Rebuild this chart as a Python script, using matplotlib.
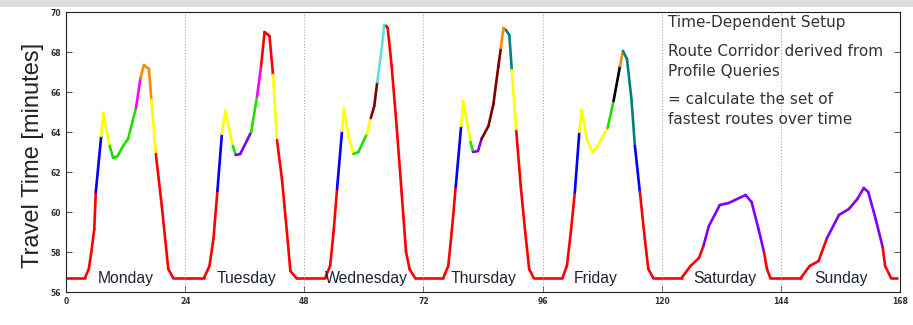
import matplotlib
matplotlib.use('Agg')
import matplotlib.pyplot as plt
from matplotlib.collections import LineCollection
from matplotlib.patches import Rectangle

# hours of the week and travel time in minutes
mon_h = [0, 3.8, 4.6, 5.1, 5.7, 6.0, 7.1, 7.5, 8.8, 9.5, 10.4, 11.5, 12.5, 14.1, 15.0, 15.7, 16.7, 17.2, 18.1, 19.3, 20.6, 21.6]
mon_v = [56.7, 56.7, 57.15, 58.0, 59.15, 61.0, 63.8, 64.95, 63.3, 62.7, 62.8, 63.3, 63.65, 65.2, 66.7, 67.35, 67.15, 65.6, 62.9, 60.3, 57.15, 56.7]
mon_c = [(0, 'red'), (6.0, 'blue'), (7.1, 'yellow'), (8.8, 'green'), (14.1, 'magenta'),
         (15.0, 'orange'), (17.2, 'yellow'), (18.1, 'red')]

tue_h = [27.8, 28.9, 29.7, 30.5, 31.4, 32.1, 33.6, 34.2, 35.1, 36.5, 37.3, 38.5, 39.3, 40.0, 41.0, 41.7, 42.5, 43.5, 44.5, 45.2, 46.4]
tue_v = [56.7, 57.3, 58.65, 61.05, 63.9, 65.05, 63.3, 62.85, 62.9, 63.6, 64.0, 65.8, 67.3, 69.0, 68.8, 66.85, 63.6, 61.65, 59.0, 57.05, 56.7]
tue_c = [(27.8, 'red'), (30.5, 'blue'), (31.4, 'yellow'), (33.6, 'green'), (34.2, 'purple'),
         (37.3, 'green'), (38.5, 'magenta'), (39.3, 'red'), (41.7, 'yellow'), (42.5, 'red')]

wed_h = [52.2, 53.2, 53.9, 54.6, 55.6, 56.0, 56.9, 57.9, 58.9, 60.6, 61.4, 62.1, 62.7, 63.6, 64.1, 64.5, 64.8, 65.6, 66.6, 67.6, 68.5, 69.2, 70.3]
wed_v = [56.7, 57.3, 59.0, 61.15, 64.05, 65.2, 63.8, 62.9, 63.0, 63.9, 64.7, 65.3, 66.5, 68.15, 69.35, 69.3, 69.2, 67.3, 64.3, 61.0, 58.0, 57.15, 56.7]
wed_c = [(52.2, 'red'), (54.6, 'blue'), (55.6, 'yellow'), (57.9, 'green'), (60.6, 'yellow'),
         (61.4, 'brown'), (62.7, 'cyan'), (64.5, 'red')]

thu_h = [76.0, 77.0, 77.7, 78.5, 79.6, 80.0, 80.7, 81.5, 82.0, 83.0, 83.7, 85.1, 86.1, 87.1, 87.6, 88.1, 88.6, 89.3, 89.8, 90.7, 91.6, 92.5, 93.3, 94.2]
thu_v = [56.7, 57.3, 59.0, 61.25, 64.3, 65.55, 64.65, 63.5, 63.0, 63.05, 63.65, 64.3, 65.4, 67.3, 68.2, 69.2, 69.1, 68.85, 67.1, 64.05, 61.3, 59.0, 57.15, 56.7]
thu_c = [(76.0, 'red'), (78.5, 'blue'), (79.6, 'yellow'), (81.5, 'green'), (82.0, 'purple'),
         (83.7, 'brown'), (87.6, 'orange'), (88.6, 'teal'), (89.8, 'yellow'), (90.7, 'red')]

fri_h = [100.0, 100.9, 101.7, 102.5, 103.4, 103.9, 104.9, 106.0, 107.1, 109.1, 110.3, 111.6, 112.2, 113.0, 113.9, 114.6, 115.6, 116.6, 117.3, 118.3]
fri_v = [56.7, 57.3, 59.0, 61.0, 64.0, 65.1, 63.65, 63.0, 63.3, 64.2, 65.55, 67.3, 68.05, 67.65, 65.65, 63.3, 61.0, 58.65, 57.15, 56.7]
fri_c = [(100.0, 'red'), (102.5, 'blue'), (103.4, 'yellow'), (109.1, 'green'), (110.3, 'black'),
         (111.6, 'orange'), (112.2, 'teal'), (114.6, 'blue'), (115.6, 'red')]

sat_h = [124.0, 125.8, 127.5, 128.4, 129.5, 131.7, 133.5, 136.9, 138.1, 139.5, 140.6, 141.2, 141.9]
sat_v = [56.7, 57.3, 57.7, 58.3, 59.3, 60.35, 60.45, 60.85, 60.5, 59.15, 58.0, 57.15, 56.7]
sat_c = [(124.0, 'red'), (128.4, 'purple'), (140.6, 'red')]

sun_h = [148.0, 149.8, 151.6, 153.3, 155.7, 157.7, 159.4, 160.7, 161.6, 163.1, 164.5, 165.0, 166.2, 167.4]
sun_v = [56.7, 57.3, 57.55, 58.7, 59.85, 60.15, 60.65, 61.2, 61.0, 59.65, 58.25, 57.3, 56.7, 56.7]
sun_c = [(148.0, 'red'), (153.3, 'purple'), (164.5, 'red')]

day_names = ['Monday', 'Tuesday', 'Wednesday', 'Thursday', 'Friday', 'Saturday', 'Sunday']
day_label_h = [12.1, 36.4, 60.6, 84.2, 106.8, 132.7, 156.2]

palette = {
    'red': '#ff0000', 'blue': '#0000ff', 'yellow': '#ffff00', 'green': '#22dd00',
    'magenta': '#ff00ff', 'orange': '#ff8800', 'purple': '#8000ff', 'brown': '#800000',
    'cyan': '#66dddd', 'teal': '#008080', 'black': '#000000',
}

hours = mon_h + tue_h + wed_h + thu_h + fri_h + sat_h + sun_h
values = mon_v + tue_v + wed_v + thu_v + fri_v + sat_v + sun_v
changes = mon_c + tue_c + wed_c + thu_c + fri_c + sat_c + sun_c

# one segment between each pair of points, colour = last change at or before its start
segs = []
cols = []
for i in range(len(hours) - 1):
    c = 'red'
    for h, name in changes:
        if h <= hours[i] + 1e-9:
            c = name
    segs.append([(hours[i], values[i]), (hours[i + 1], values[i + 1])])
    cols.append(palette[c])

fig = plt.figure(figsize=(9.13, 3.25), dpi=100)
fig.patches.append(Rectangle((0, 1 - 7 / 325), 1, 7 / 325, transform=fig.transFigure,
                             facecolor='#dcdcdc', edgecolor='none'))
ax = fig.add_axes([66 / 913, 33 / 325, 834 / 913, 280 / 325])

lc = LineCollection(segs, colors=cols, linewidths=1.9, capstyle='round', joinstyle='round')
ax.add_collection(lc)

ax.set_xlim(0, 168)
ax.set_ylim(56, 70)
ax.set_xticks(range(0, 169, 24))
ax.set_yticks(range(56, 71, 2))
for x in range(24, 168, 24):
    ax.axvline(x, color='#aaaaaa', linestyle=':', linewidth=0.8)

ax.tick_params(axis='both', direction='in', labelsize=5.5, length=4, width=0.6,
               right=True, colors='#333333')
for lab in ax.get_xticklabels() + ax.get_yticklabels():
    lab.set_fontweight('bold')
for sp in ax.spines.values():
    sp.set_linewidth(0.8)
    sp.set_color('#222222')

for name, h in zip(day_names, day_label_h):
    ax.text(h, 56.43, name, ha='center', va='baseline', fontsize=11.3,
            family='Liberation Sans', color='#1c2333')

fig.text(33 / 913, 1 - 155 / 325, 'Travel Time [minutes]', rotation=90, ha='center',
         va='center', fontsize=17, family='Liberation Sans', color='#222222')

note_lines = ['Time-Dependent Setup', 'Route Corridor derived from', 'Profile Queries',
              '= calculate the set of', 'fastest routes over time']
note_y = [69.5, 68.0, 67.05, 65.65, 64.65]
for t, y in zip(note_lines, note_y):
    ax.text(121.2, y, t, ha='left', va='center', fontsize=11, color='#333333',
            family='DejaVu Sans')

fig.savefig('out.png', dpi=100)
